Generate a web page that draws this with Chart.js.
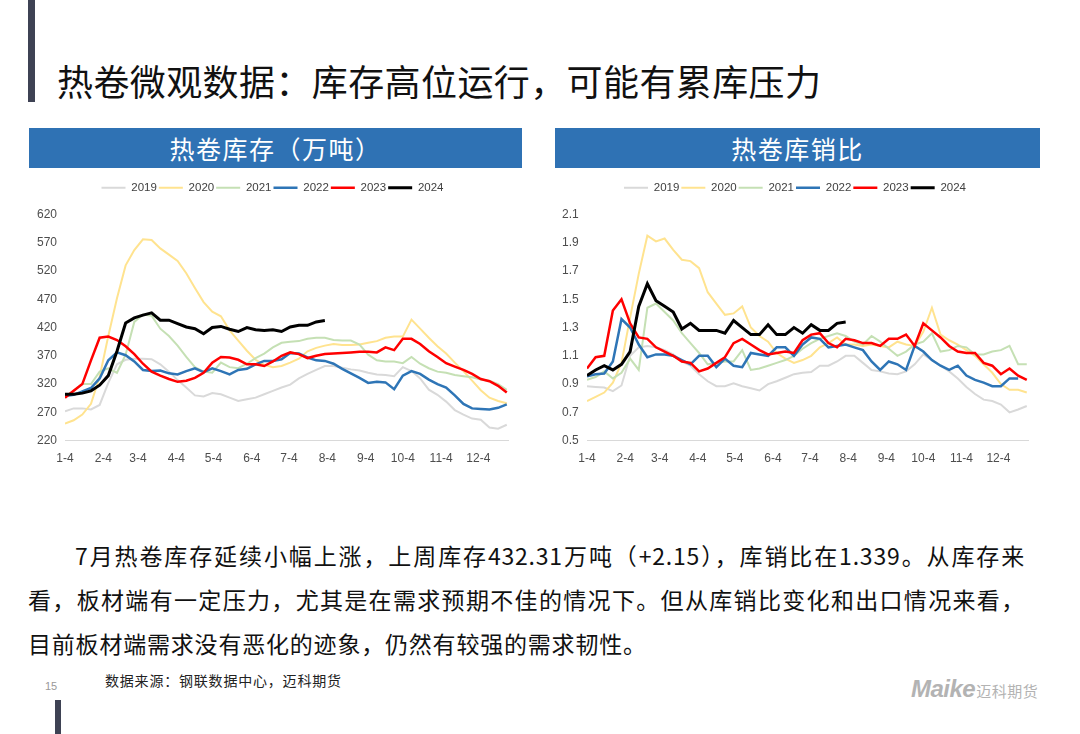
<!DOCTYPE html>
<html>
<head>
<meta charset="utf-8">
<script src="https://cdn.jsdelivr.net/npm/chart.js@4.4.1/dist/chart.umd.min.js"></script>
<style>
  body { margin: 0; width: 1080px; height: 734px; background: #fff; position: relative; overflow: hidden;
         font-family: "Noto Sans CJK SC", "Noto Sans", sans-serif; }
  .abs { position: absolute; }
  .bar { background: #3e4254; }
  #title { left: 57px; top: 61px; font-size: 36px; line-height: 38px; letter-spacing: 0.4px; color: #111; white-space: nowrap; }
  .head { top: 128px; height: 40px; background: #2f72b4; color: #fff; font-size: 25px; line-height: 40px;
          text-align: center; letter-spacing: 1.5px; }
  .para { font-size: 23px; line-height: 30px; letter-spacing: 0.8px; color: #111; white-space: nowrap; }
  .just { text-align: justify; text-align-last: justify; white-space: normal; }
  #src { left: 105px; top: 670px; font-size: 14px; letter-spacing: 0.8px; color: #222; }
  #page { left: 45px; top: 680px; font-size: 11px; color: #999; font-family: "Liberation Sans", sans-serif; }
  #logo { left: 911px; top: 675px; color: #b3b3b3; white-space: nowrap; }
  #logo .en { font-family: "Liberation Sans", sans-serif; font-weight: bold; font-style: italic; font-size: 24px; letter-spacing: -0.5px; }
  #logo .cn { font-size: 15px; letter-spacing: 0.5px; margin-left: 1px; }
</style>
</head>
<body>
<div class="abs bar" style="left:28px;top:0;width:7px;height:102px"></div>
<div class="abs" id="title">热卷微观数据：库存高位运行，可能有累库压力</div>

<div class="abs head" style="left:29px;width:493px">热卷库存（万吨）</div>
<div class="abs head" style="left:555px;width:485px">热卷库销比</div>

<canvas id="chartStock" class="abs" style="left:30px;top:172px" width="492" height="314"></canvas>
<canvas id="chartRatio" class="abs" style="left:555px;top:172px" width="485" height="314"></canvas>

<div class="abs para just" style="left:75px;top:540px;width:950px">7月热卷库存延续小幅上涨，上周库存432.31万吨（+2.15），库销比在1.339。从库存来</div>
<div class="abs para just" style="left:28px;top:584px;width:997px">看，板材端有一定压力，尤其是在需求预期不佳的情况下。但从库销比变化和出口情况来看，</div>
<div class="abs para" style="left:28px;top:628px">目前板材端需求没有恶化的迹象，仍然有较强的需求韧性。</div>

<div class="abs" id="src">数据来源：钢联数据中心，迈科期货</div>
<div class="abs" id="page">15</div>
<div class="abs bar" style="left:55px;top:700px;width:6px;height:34px"></div>
<div class="abs" id="logo"><span class="en">Maike</span><span class="cn">迈科期货</span></div>

<script>
// 周度日期（每周一个点）
const weekDates = ['1-4','1-11','1-18','1-25','2-1','2-8','2-15','2-22','3-1','3-8','3-15','3-22','3-29',
  '4-5','4-12','4-19','4-26','5-3','5-10','5-17','5-24','5-31','6-7','6-14','6-21','6-28',
  '7-5','7-12','7-19','7-26','8-2','8-9','8-16','8-23','8-30','9-6','9-13','9-20','9-27',
  '10-4','10-11','10-18','10-25','11-1','11-8','11-15','11-22','11-29','12-6','12-13','12-20','12-27'];
const monthTicks = ['1-4','2-4','3-4','4-4','5-4','6-4','7-4','8-4','9-4','10-4','11-4','12-4'];
const years = ['2019','2020','2021','2022','2023','2024'];

// 热卷库存（万吨）
const stock2019 = [272,277,277,275,283,322,355,363,365,365,364,355,342,327,314,300,298,304,302,296,290,293,296,302,308,314,319,330,338,345,352,352,349,346,344,340,337,336,334,350,343,330,310,301,289,274,266,259,257,243,241,248];
const stock2020 = [250,256,266,285,333,405,472,530,557,576,575,560,549,538,516,490,465,448,440,415,397,379,363,354,350,352,358,365,378,384,388,391,389,389,390,393,396,402,404,404,434,418,402,387,374,358,343,326,309,296,290,286];
const stock2021 = [298,308,320,320,342,348,340,372,430,443,441,418,405,388,368,350,342,340,358,350,348,356,366,374,385,393,395,396,400,402,402,398,397,397,390,372,362,360,360,357,368,356,348,342,340,336,334,332,328,326,320,310];
const stock2022 = [299,301,307,313,330,362,376,371,360,345,343,344,339,337,343,348,341,348,343,337,345,347,355,361,361,364,375,374,367,362,361,356,347,339,331,322,324,323,311,335,343,338,328,320,314,300,285,277,276,275,278,284];
const stock2023 = [296,308,320,362,402,404,398,387,373,356,342,335,329,324,326,331,340,358,368,367,363,355,355,352,360,370,376,373,366,370,373,374,375,376,377,377,376,385,380,400,400,391,378,368,357,351,345,338,329,325,317,305];
const stock2024 = [302,302,304,308,318,335,378,428,437,442,446,433,433,427,421,418,409,420,422,417,413,420,416,415,416,413,421,424,424,430,432.31];

// 热卷库销比
const ratio2019 = [0.885,0.88,0.875,0.85,0.89,1.10,1.16,1.17,1.16,1.14,1.11,1.06,1.03,0.97,0.92,0.885,0.885,0.905,0.885,0.87,0.855,0.90,0.92,0.945,0.97,0.98,0.985,1.03,1.03,1.06,1.10,1.10,1.05,1.00,0.99,0.975,0.97,0.99,1.04,1.11,1.07,1.03,0.99,0.94,0.88,0.83,0.79,0.78,0.755,0.70,0.72,0.745];
const ratio2020 = [0.78,0.81,0.84,0.91,1.05,1.37,1.68,1.95,1.91,1.93,1.85,1.78,1.77,1.72,1.55,1.47,1.39,1.40,1.45,1.30,1.24,1.20,1.12,1.08,1.05,1.07,1.10,1.16,1.19,1.23,1.18,1.18,1.17,1.18,1.17,1.16,1.20,1.18,1.17,1.27,1.44,1.25,1.21,1.18,1.14,1.10,1.04,0.98,0.90,0.86,0.86,0.84];
const ratio2021 = [0.93,0.95,0.99,0.94,0.98,1.08,1.00,1.44,1.47,1.41,1.35,1.26,1.19,1.12,1.04,1.05,1.06,1.06,1.14,1.00,1.01,1.03,1.05,1.07,1.10,1.15,1.19,1.22,1.24,1.26,1.24,1.20,1.18,1.24,1.20,1.15,1.10,1.13,1.18,1.20,1.26,1.13,1.14,1.17,1.16,1.11,1.11,1.13,1.14,1.17,1.04,1.04];
const ratio2022 = [0.955,0.97,0.975,1.06,1.36,1.30,1.18,1.09,1.11,1.11,1.10,1.07,1.04,1.10,1.10,1.02,1.08,1.03,1.02,1.12,1.11,1.10,1.16,1.16,1.10,1.18,1.23,1.22,1.16,1.17,1.18,1.16,1.14,1.06,1.00,1.06,1.04,1.00,1.17,1.13,1.07,1.03,1.00,1.03,0.96,0.93,0.91,0.885,0.885,0.94,0.94,null];
const ratio2023 = [1.01,1.09,1.10,1.42,1.50,1.33,1.23,1.22,1.16,1.13,1.10,1.06,1.05,0.99,1.01,1.05,1.09,1.19,1.22,1.18,1.14,1.11,1.12,1.13,1.12,1.21,1.25,1.26,1.19,1.16,1.22,1.21,1.19,1.19,1.17,1.22,1.22,1.25,1.17,1.33,1.28,1.23,1.17,1.13,1.12,1.12,1.05,1.03,0.97,1.01,0.96,0.93];
const ratio2024 = [0.96,1.00,1.03,1.00,1.04,1.13,1.45,1.61,1.49,1.45,1.41,1.29,1.33,1.28,1.28,1.28,1.26,1.35,1.30,1.25,1.25,1.32,1.25,1.25,1.30,1.26,1.32,1.28,1.28,1.33,1.339];

const colors = ['#d9d9d9','#ffe38f','#c5e0b4','#2e75b6','#ff0000','#000000'];
const widths = [2, 2, 2, 2.5, 2.5, 3];

// 月-日 转成一年中的第几天
const monthStart = [0,31,59,90,120,151,181,212,243,273,304,334];
function toDay(md) {
  const [m, d] = md.split('-').map(Number);
  return monthStart[m - 1] + d;
}

// 图例与绘图区之间留空
const legendGap = {
  id: 'legendGap',
  beforeInit(chart) {
    const fit = chart.legend.fit;
    chart.legend.fit = function () {
      fit.bind(chart.legend)();
      this.height += chart.options.plugins.legendGap.gap;
    };
  }
};

function makeChart(id, series, yMin, yMax, yStep, digits, axisW, padRight) {
  const datasets = series.map((vals, k) => ({
    label: years[k],
    data: vals.map((v, i) => ({x: toDay(weekDates[i]), y: v})),
    borderColor: colors[k],
    backgroundColor: colors[k],
    borderWidth: widths[k],
    pointRadius: 0,
    tension: 0,
    order: series.length - k
  }));
  return new Chart(document.getElementById(id), {
    type: 'line',
    data: {datasets: datasets},
    plugins: [legendGap],
    options: {
      responsive: false,
      animation: false,
      devicePixelRatio: 1,
      layout: {padding: {top: 8, left: 7, right: padRight, bottom: 9}},
      plugins: {
        legendGap: {gap: 11},
        tooltip: {enabled: false},
        legend: {
          position: 'top',
          labels: {
            sort: (a, b) => a.datasetIndex - b.datasetIndex,
            usePointStyle: true,
            pointStyle: 'line',
            pointStyleWidth: 24,
            padding: 2,
            color: '#404040',
            font: {family: 'Liberation Sans', size: 11.5}
          }
        }
      },
      scales: {
        x: {
          type: 'linear',
          min: 4,
          max: 362,
          grid: {display: false, drawTicks: false},
          border: {display: true, color: '#d9d9d9', width: 1},
          afterBuildTicks: s => { s.ticks = monthTicks.map(t => ({value: toDay(t)})); },
          ticks: {
            autoSkip: false,
            maxRotation: 0,
            padding: 11,
            color: '#4d4d4d',
            font: {family: 'Liberation Sans', size: 12},
            callback: (v, i) => monthTicks[i]
          }
        },
        y: {
          min: yMin,
          max: yMax,
          grid: {display: false, drawTicks: false},
          border: {display: false},
          afterFit: s => { s.width = axisW; },
          ticks: {
            stepSize: yStep,
            crossAlign: 'far',
            color: '#4d4d4d',
            font: {family: 'Liberation Sans', size: 12},
            callback: v => Number(v).toFixed(digits)
          }
        }
      }
    }
  });
}

makeChart('chartStock', [stock2019, stock2020, stock2021, stock2022, stock2023, stock2024], 220, 620, 50, 0, 28, 14);
makeChart('chartRatio', [ratio2019, ratio2020, ratio2021, ratio2022, ratio2023, ratio2024], 0.5, 2.1, 0.2, 1, 25, 12);
</script>
</body>
</html>
